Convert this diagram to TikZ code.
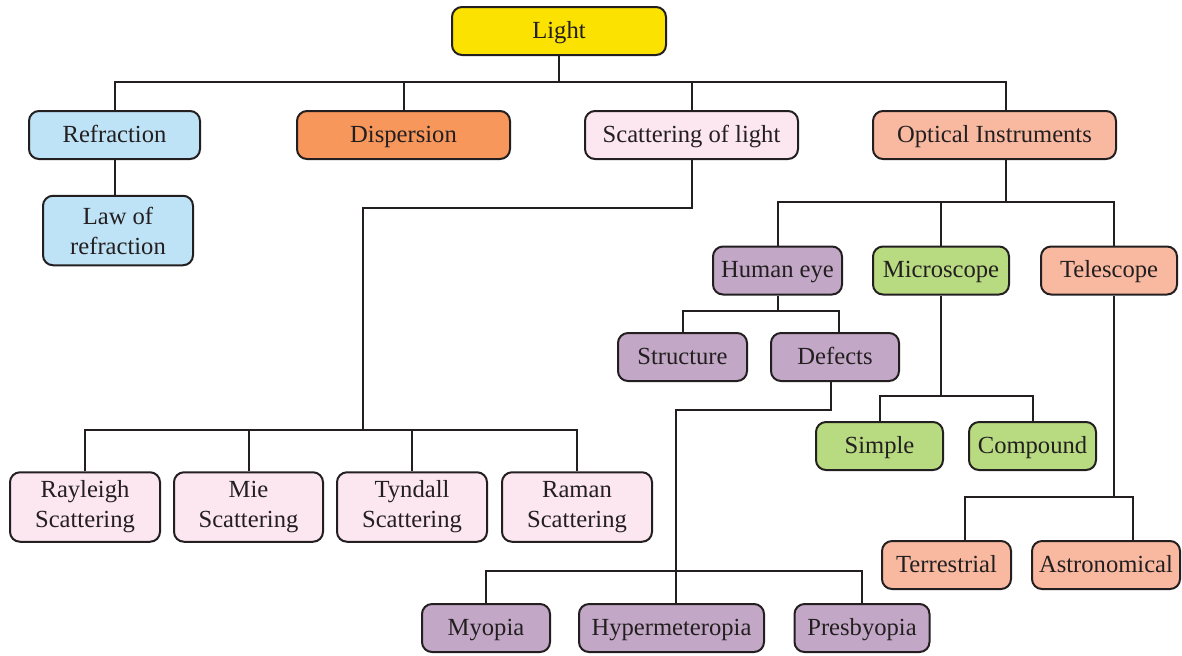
\documentclass[tikz,border=0pt]{standalone}
\usepackage{fontspec}
\setmainfont{Liberation Serif}
\definecolor{linec}{HTML}{231F20}
\definecolor{cyel}{HTML}{FBE200}
\definecolor{cblue}{HTML}{BEE3F7}
\definecolor{corange}{HTML}{F7975B}
\definecolor{cpink}{HTML}{FCE6EF}
\definecolor{csalmon}{HTML}{F9B9A0}
\definecolor{cpurple}{HTML}{C2A8C6}
\definecolor{cgreen}{HTML}{B8DA80}
\tikzset{
	basebox/.style={draw=linec,line width=1pt,rounded corners=5pt,inner sep=0pt,align=center,text=linec,font=\fontsize{12.3}{15}\selectfont},
	box/.style={basebox,minimum height=24pt,text height=9pt,text depth=2pt},
	tall/.style={basebox,minimum height=34.75pt},
	link/.style={draw=linec,line width=1pt}
}
\begin{document}
\begin{tikzpicture}[x=0.5pt,y=-0.5pt]
		\useasboundingbox (0,0) rectangle (1182,655);
		\node[box,fill=cyel,minimum width=107pt] (light) at (559,31) {Light};
		\node[box,fill=cblue,minimum width=85.5pt] (refr) at (114.5,135) {Refraction};
		\node[box,fill=corange,minimum width=106.5pt] (disp) at (403.5,135) {Dispersion};
		\node[box,fill=cpink,minimum width=106.5pt] (scat) at (691.5,135) {Scattering of light};
		\node[box,fill=csalmon,minimum width=121.5pt] (optic) at (994.5,135) {Optical Instruments};
		\node[tall,fill=cblue,minimum width=75pt] (law) at (118,230.5) {Law of\\refraction};
		\node[tall,fill=cpink,minimum width=75pt] (ray) at (85,507) {Rayleigh\\Scattering};
		\node[tall,fill=cpink,minimum width=74.5pt] (mie) at (248.5,507) {Mie\\Scattering};
		\node[tall,fill=cpink,minimum width=75pt] (tyn) at (412,507) {Tyndall\\Scattering};
		\node[tall,fill=cpink,minimum width=75pt] (ram) at (577,507) {Raman\\Scattering};
		\node[box,fill=cpurple,minimum width=64.5pt] (eye) at (777.5,270.5) {Human eye};
		\node[box,fill=cgreen,minimum width=68pt] (micro) at (941,270.5) {Microscope};
		\node[box,fill=csalmon,minimum width=68pt] (tele) at (1109,270.5) {Telescope};
		\node[box,fill=cpurple,minimum width=64.5pt] (struct) at (682.5,357) {Structure};
		\node[box,fill=cpurple,minimum width=64pt] (def) at (835,357) {Defects};
		\node[box,fill=cgreen,minimum width=63.5pt] (simple) at (879.5,446) {Simple};
		\node[box,fill=cgreen,minimum width=63.5pt] (comp) at (1032.5,446) {Compound};
		\node[box,fill=csalmon,minimum width=64.5pt] (terr) at (946.5,565) {Terrestrial};
		\node[box,fill=csalmon,minimum width=74pt] (astro) at (1106,565) {Astronomical};
		\node[box,fill=cpurple,minimum width=64pt] (myo) at (486,628) {Myopia};
		\node[box,fill=cpurple,minimum width=92.5pt] (hyper) at (671.5,628) {Hypermeteropia};
		\node[box,fill=cpurple,minimum width=67.5pt] (pres) at (862,628) {Presbyopia};
		\foreach \n in {refr,disp,scat}
			\draw[link] (light.south) -- ++(0,26) -| (\n.north);
		\draw[link] (light.south) -- ++(0,26) -| ([xshift=5.75pt]optic.north);
		\draw[link] (refr.south) -- (refr.south |- law.north);
		\coordinate (sbus) at (363,430);
		\draw[link] (scat.south) -- ++(0,48) -| (sbus);
		\foreach \n in {ray,mie,tyn,ram}
			\draw[link] (sbus) -| (\n.north);
		\coordinate (obus) at (1006,202);
		\draw[link] ([xshift=5.75pt]optic.south) -- (obus);
		\foreach \n in {eye,micro}
			\draw[link] (obus) -| (\n.north);
		\draw[link] (obus) -| ([xshift=2.5pt]tele.north);
		\draw[link] (eye.south) -- ++(0,15) coordinate (ebus);
		\draw[link] (ebus) -| (struct.north);
		\draw[link] (ebus) -| ([xshift=2pt]def.north);
		\draw[link] ([xshift=-2pt]def.south) -- ++(0,28) -| ([xshift=2.25pt]hyper.north);
		\draw[link] (myo.north) -- ++(0,-32) -| (pres.north);
		\draw[link] (micro.south) -- ++(0,100) coordinate (mbus);
		\draw[link] (mbus) -| (simple.north);
		\draw[link] (mbus) -| (comp.north);
		\draw[link] ([xshift=2.5pt]tele.south) -- ++(0,201) coordinate (tbus);
		\draw[link] (tbus) -| ([xshift=9pt]terr.north);
		\draw[link] (tbus) -| ([xshift=13.5pt]astro.north);
\end{tikzpicture}
\end{document}
